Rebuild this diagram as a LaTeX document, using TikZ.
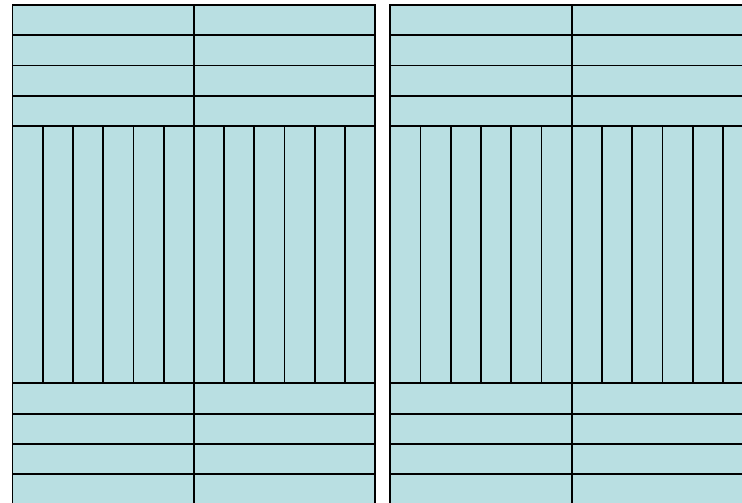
\documentclass[tikz,border=0pt]{standalone}
\definecolor{tile}{RGB}{185,223,226}
\begin{document}
\begin{tikzpicture}[x=1pt,y=-1pt,line width=1.8pt,
  board/.style={draw=black}]
\useasboundingbox (0,0) rectangle (742,503);
\clip (0,0) rectangle (742,503);
\foreach \xo in {12.5,390.3}{
  \begin{scope}[shift={(\xo,0)}]
    % whole panel fill
    \fill[tile] (0,5) rectangle (362.8,504.5);
    % top board rows
    \foreach \i in {0,...,3}{
      \draw[board] (0,5+\i*30.25) rectangle (181.4,5+\i*30.25+30.25);
      \draw[board] (181.4,5+\i*30.25) rectangle (362.8,5+\i*30.25+30.25);
    }
    % vertical strips
    \foreach \j in {0,...,11}{
      \draw[board] (\j*30.233,126) rectangle (\j*30.233+30.233,383.3);
    }
    % bottom board rows
    \foreach \i in {0,...,3}{
      \draw[board] (0,383.3+\i*30.3) rectangle (181.4,383.3+\i*30.3+30.3);
      \draw[board] (181.4,383.3+\i*30.3) rectangle (362.8,383.3+\i*30.3+30.3);
    }
  \end{scope}
}
\end{tikzpicture}
\end{document}
